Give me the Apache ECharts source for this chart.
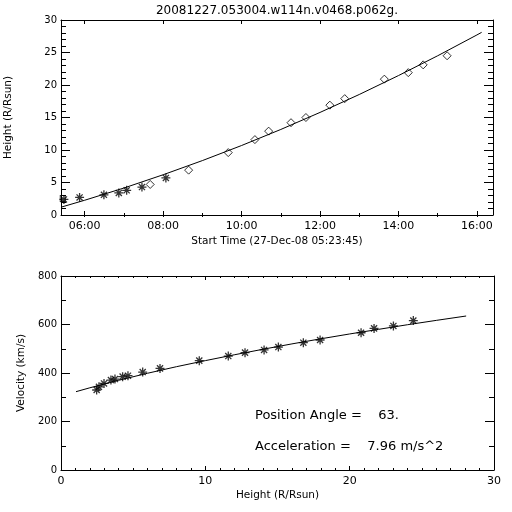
<!DOCTYPE html>
<html><head><meta charset="utf-8">
<script src="https://cdn.jsdelivr.net/npm/echarts@6/dist/echarts.min.js"></script>
<style>html,body{margin:0;padding:0;background:#fff}#c{width:512px;height:512px}</style>
</head><body><div id="c"></div>
<script>
const titleText = '20081227.053004.w114n.v0468.p062g.';
// Top panel: height vs time (hours of day)
const c2Times = [5.47, 5.87, 6.49, 6.87, 7.07, 7.46, 8.07];
const c2Heights = [2.4, 2.7, 3.1, 3.4, 3.8, 4.3, 5.7];
const c3Times = [7.67, 8.65, 9.66, 10.34, 10.69, 11.26, 11.64, 12.25, 12.63, 13.64, 14.25, 14.63, 15.24];
const c3Heights = [4.7, 6.9, 9.6, 11.6, 12.9, 14.2, 15.0, 16.9, 17.9, 20.9, 21.9, 23.1, 24.5];
const boxTimes = [5.44];
const boxHeights = [2.55];
const fitTimes = [5.396, 6, 7, 8, 9, 10, 11, 12, 13, 14, 15, 16, 16.12];
const fitHeights = [1.2, 2.27, 4.15, 6.19, 8.37, 10.69, 13.16, 15.78, 18.54, 21.45, 24.5, 27.7, 28.1];
const timeMajorTicks = [6, 8, 10, 12, 14, 16];
const timeLabels = ['06:00', '08:00', '10:00', '12:00', '14:00', '16:00'];
const timeMinorTicks = [6, 7, 8, 9, 10, 11, 12, 13, 14, 15, 16];
const timeMin = 5.396, timeMax = 16.41;
// Bottom panel: velocity vs height
const velHeights = [2.47, 2.63, 2.98, 3.46, 3.74, 4.27, 4.64, 5.66, 6.86, 9.58, 11.59, 12.75, 14.07, 15.06, 16.79, 17.95, 20.79, 21.69, 23.03, 24.41];
const velocities = [330, 343, 357, 371, 375, 385, 389, 404, 419, 451, 470, 484, 495, 507, 525, 536, 566, 584, 594, 616];
const velFitHeights = [1.04, 2, 4, 6, 8, 10, 12, 14, 16, 18, 20, 22, 24, 26, 28.07];
const velFitValues = [323, 339, 370, 399, 426, 451, 475, 498, 520, 541, 561, 580, 599, 617, 635];
const annotations = ['Position Angle =    63.', 'Acceleration =    7.96 m/s^2'];

const FONT = 'DejaVu Sans';
const black = '#000';
const STAR = 'path://M0 5L10 5M5 0L5 10M1.6 1.6L8.4 8.4M1.6 8.4L8.4 1.6';
const zip = (a, b) => a.map((v, i) => [v, b[i]]);
const lineStyle = {color: black, width: 1};
const lblX = {color: black, fontFamily: FONT, fontSize: 11};
const lblY = {color: black, fontFamily: FONT, fontSize: 10};
const nameStyle = {color: black, fontFamily: FONT, fontSize: 10.5};

function xAx(grid, pos, extra) {
  return Object.assign({
    type: 'value', gridIndex: grid, position: pos,
    axisLine: {show: true, onZero: false, lineStyle},
    axisTick: {show: true, inside: true, length: 4, lineStyle},
    axisLabel: {show: false},
    splitLine: {show: false}
  }, extra);
}
function yAx(grid, pos, extra) {
  return Object.assign({
    type: 'value', gridIndex: grid, position: pos,
    axisLine: {show: true, onZero: false, lineStyle},
    axisTick: {show: true, inside: true, length: 9, lineStyle},
    minorTick: {show: true, length: 5, lineStyle},
    axisLabel: {show: false},
    splitLine: {show: false}
  }, extra);
}
const timeFmt = v => timeLabels[timeMajorTicks.indexOf(v)];

const option = {
  animation: false,
  backgroundColor: '#fff',
  grid: [
    {left: 61, top: 20, width: 432, height: 195, outerBoundsMode: 'none'},
    {left: 61, top: 276, width: 433, height: 194, outerBoundsMode: 'none'}
  ],
  xAxis: [
    xAx(0, 'bottom', {min: timeMin, max: timeMax,
      axisTick: {show: true, inside: true, length: 4, lineStyle, customValues: timeMajorTicks},
      axisLabel: {show: true, customValues: timeMajorTicks, formatter: timeFmt, margin: 6, ...lblX},
      name: 'Start Time (27-Dec-08 05:23:45)', nameLocation: 'middle', nameGap: 21,
      nameTextStyle: nameStyle}),
    xAx(0, 'bottom', {min: timeMin, max: timeMax, axisLine: {show: false},
      axisTick: {show: true, inside: true, length: 2, lineStyle, customValues: timeMinorTicks}}),
    xAx(0, 'top', {min: timeMin, max: timeMax,
      axisTick: {show: true, inside: true, length: 4, lineStyle, customValues: timeMajorTicks}}),
    xAx(0, 'top', {min: timeMin, max: timeMax, axisLine: {show: false},
      axisTick: {show: true, inside: true, length: 2, lineStyle, customValues: timeMinorTicks}}),
    xAx(1, 'bottom', {min: 0, max: 30, interval: 10,
      minorTick: {show: true, splitNumber: 10, length: 2, lineStyle},
      axisLabel: {show: true, margin: 6, ...lblX},
      name: 'Height (R/Rsun)', nameLocation: 'middle', nameGap: 20,
      nameTextStyle: nameStyle}),
    xAx(1, 'top', {min: 0, max: 30, interval: 10,
      minorTick: {show: true, splitNumber: 10, length: 2, lineStyle}})
  ],
  yAxis: [
    yAx(0, 'left', {min: 0, max: 30, interval: 5,
      minorTick: {show: true, splitNumber: 5, length: 5, lineStyle},
      axisLabel: {show: true, margin: 4, ...lblY},
      name: 'Height (R/Rsun)', nameLocation: 'middle', nameGap: 47, nameRotate: 90,
      nameTextStyle: nameStyle}),
    yAx(0, 'right', {min: 0, max: 30, interval: 5,
      minorTick: {show: true, splitNumber: 5, length: 5, lineStyle}}),
    yAx(1, 'left', {min: 0, max: 800, interval: 200,
      minorTick: {show: true, splitNumber: 2, length: 5, lineStyle},
      axisLabel: {show: true, margin: 4, ...lblY},
      name: 'Velocity (km/s)', nameLocation: 'middle', nameGap: 34, nameRotate: 90,
      nameTextStyle: nameStyle}),
    yAx(1, 'right', {min: 0, max: 800, interval: 200,
      minorTick: {show: true, splitNumber: 2, length: 5, lineStyle}})
  ],
  series: [
    {type: 'line', xAxisIndex: 0, yAxisIndex: 0, data: zip(fitTimes, fitHeights),
      showSymbol: false, symbol: 'none', lineStyle, silent: true},
    {type: 'scatter', xAxisIndex: 0, yAxisIndex: 0, data: zip(c2Times, c2Heights),
      symbol: STAR, symbolSize: 9,
      itemStyle: {color: black, borderColor: black, borderWidth: 1.3}},
    {type: 'scatter', xAxisIndex: 0, yAxisIndex: 0, data: zip(c3Times, c3Heights),
      symbol: 'diamond', symbolSize: [8, 8],
      itemStyle: {color: 'rgba(0,0,0,0)', borderColor: black, borderWidth: 1}},
    {type: 'scatter', xAxisIndex: 0, yAxisIndex: 0, data: zip(boxTimes, boxHeights),
      symbol: 'rect', symbolSize: [5, 6],
      itemStyle: {color: 'rgba(0,0,0,0)', borderColor: black, borderWidth: 1}},
    {type: 'line', xAxisIndex: 4, yAxisIndex: 2, data: zip(velFitHeights, velFitValues),
      showSymbol: false, symbol: 'none', lineStyle, silent: true},
    {type: 'scatter', xAxisIndex: 4, yAxisIndex: 2, data: zip(velHeights, velocities),
      symbol: STAR, symbolSize: 9,
      itemStyle: {color: black, borderColor: black, borderWidth: 1.3}}
  ],
  graphic: [
    {type: 'text', x: 277, y: 11, style: {text: titleText, fill: black, font: '12px "DejaVu Sans"', align: 'center', verticalAlign: 'middle'}},
    {type: 'text', x: 255, y: 416, style: {text: annotations[0], fill: black, font: '13px "DejaVu Sans"', align: 'left', verticalAlign: 'middle'}},
    {type: 'text', x: 255, y: 447, style: {text: annotations[1], fill: black, font: '13px "DejaVu Sans"', align: 'left', verticalAlign: 'middle'}}
  ]
};
const chart = echarts.init(document.getElementById('c'), null, {renderer: 'canvas'});
chart.setOption(option);
</script>
</body></html>
